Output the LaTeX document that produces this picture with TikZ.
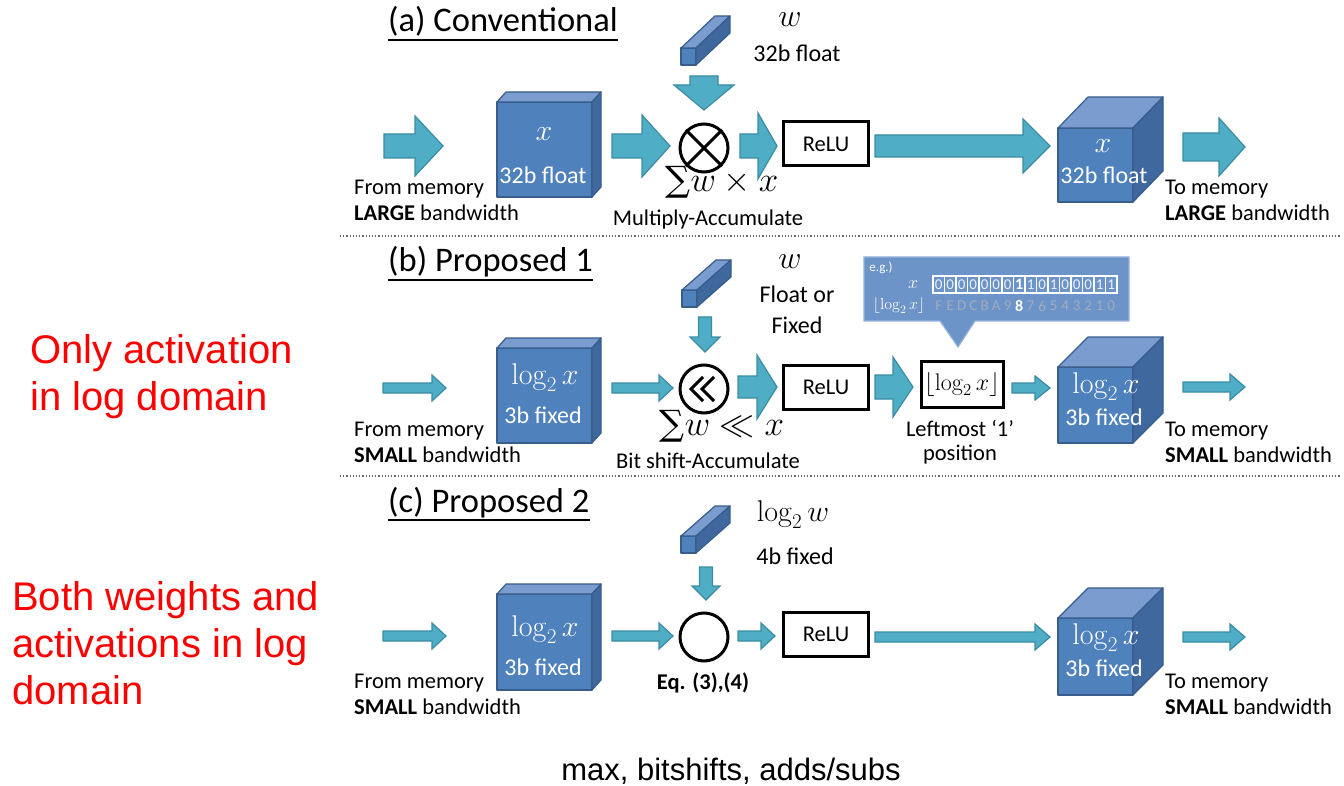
\RequirePackage{fix-cm}
\documentclass[tikz,border=0pt]{standalone}
\usepackage[no-math]{fontspec}
\setmainfont{Carlito}
\newfontfamily\arialf{Liberation Sans}
\newfontfamily\symf{DejaVu Serif}
\usetikzlibrary{calc}
\definecolor{arrfill}{HTML}{4FADC6}
\definecolor{arrdraw}{HTML}{3A8CA3}
\definecolor{cubefront}{HTML}{4F81BD}
\definecolor{cubetop}{HTML}{7A9CCF}
\definecolor{cubeside}{HTML}{3F689F}
\definecolor{cubeedge}{HTML}{385D8A}
\definecolor{callfill}{HTML}{6D94C9}
\definecolor{calledge}{HTML}{95B3DD}
\definecolor{digitgray}{HTML}{A0ABBE}
\definecolor{redtxt}{HTML}{FF0000}
\tikzset{
  fatarrow/.style={fill=arrfill, draw=arrdraw, line width=1.2, line join=miter},
  cubeface/.style={draw=cubeedge, line width=1.2, line join=round},
  lab/.style={inner sep=0, font=\fontsize{22.5}{27}\selectfont},
  titletxt/.style={inner sep=0, font=\fontsize{34.5}{41}\selectfont},
  cubetxt/.style={inner sep=0, text=white, font=\fontsize{24}{28}\selectfont},
  cubemath/.style={inner sep=0, text=white, font=\fontsize{30}{36}\selectfont},
  bigmath/.style={inner sep=0, font=\fontsize{35}{40}\selectfont},
  wmath/.style={inner sep=0, font=\fontsize{32}{36}\selectfont},
  wlab/.style={inner sep=0, font=\fontsize{24}{28}\selectfont},
  redlab/.style={inner sep=0, text=redtxt, font=\arialf\fontsize{40}{47}\selectfont},
  botlab/.style={inner sep=0, font=\arialf\fontsize{31}{36}\selectfont},
  opcircle/.style={circle, draw=black, line width=3, minimum size=48, inner sep=0},
  blackbox/.style={draw=black, line width=3, inner sep=0, minimum width=85, minimum height=44, font=\fontsize{22.5}{27}\selectfont},
  callout/.style={fill=callfill, draw=calledge, line width=1.2},
  sepline/.style={dotted, draw=black!60, line width=1.2},
  pics/barrow/.style args={#1/#2/#3/#4}{code={
    \draw[fatarrow] (0,-#2) -- (#1-#4,-#2) -- (#1-#4,-#3) -- (#1,0) -- (#1-#4,#3) -- (#1-#4,#2) -- (0,#2) -- cycle;}},
  pics/cube/.style args={#1/#2/#3/#4}{code={
    \filldraw[cubeface, fill=cubefront] (0,0) rectangle (#1,#2);
    \filldraw[cubeface, fill=cubetop] (0,0) -- (#3,-#4) -- (#1+#3,-#4) -- (#1,0) -- cycle;
    \filldraw[cubeface, fill=cubeside] (#1,0) -- (#1+#3,-#4) -- (#1+#3,#2-#4) -- (#1,#2) -- cycle;}},
}
\begin{document}
\begin{tikzpicture}[x=1pt, y=-1pt]
\useasboundingbox (0,0) rectangle (1344,786);
\fill[white] (0,0) rectangle (1344,786);

% ---------- left red labels ----------
\node[redlab, anchor=base west] (r1) at (30,363) {Only activation};
\node[redlab, anchor=base west] (r2) at (30,410) {in log domain};
\node[redlab, anchor=base west] (r3) at (12,610) {Both weights and};
\node[redlab, anchor=base west] (r4) at (12,657) {activations in log};
\node[redlab, anchor=base west] (r5) at (12,704) {domain};
\node[botlab, anchor=base] (bot) at (731,780) {max, bitshifts, adds/subs};

% ---------- separators ----------
\draw[sepline] (340,236) -- (1340,236);
\draw[sepline] (340,476) -- (1340,476);

% ================= ROW A =================
\node[titletxt, anchor=base west] (ta) at (388,32) {(a) Conventional};
\draw[line width=1.6] ($(ta.base west)+(0,8)$) -- ($(ta.base east)+(0,8)$);

\pic at (384,146) {barrow=59/12/30/28};
\pic at (497,102) {cube=95/95/9/10};
\node[cubemath] (xa) at (544,134) {$x$};
\node[cubetxt] (xa2) at (543,175) {32b float};
\pic at (612,146) {barrow=58/12/31/28};
\node[opcircle] (ca) at (704,148) {};
\draw[line width=3] (ca.north west) -- (ca.south east) (ca.north east) -- (ca.south west);
\pic at (681,48) {cube=15/17/34/32};
\node[wmath] (wa) at (790,20) {$w$};
\node[wlab] (wa2) at (797,53) {32b float};
\pic[rotate=-90] at (704,76) {barrow=34/14/30/25};
\node[bigmath, anchor=base] (sa) at (722,192) {{\symf ∑}$w\times x$};
\node[lab] (ma) at (708,220) {Multiply-Accumulate};
\pic at (740,146) {barrow=37/12/33/19};
\node[blackbox] (ra) at (826,144) {ReLU};
\pic at (875,146) {barrow=175/11/27/27};
\pic at (1058,128) {cube=75/74/30/31};
\node[cubemath] (xar) at (1103,146) {$x$};
\node[cubetxt] (xar2) at (1104,175) {32b float};
\pic at (1183,147) {barrow=62/14/29/26};
\node[lab, anchor=base west] (fa1) at (354,195) {From memory};
\node[lab, anchor=base west] (fa2) at (354,221) {\textbf{LARGE} bandwidth};
\node[lab, anchor=base west] (ta1) at (1165,195) {To memory};
\node[lab, anchor=base west] (ta2) at (1165,221) {\textbf{LARGE} bandwidth};

% ================= ROW B =================
\node[titletxt, anchor=base west] (tb) at (388,272) {(b) Proposed 1};
\draw[line width=1.6] ($(tb.base west)+(0,8)$) -- ($(tb.base east)+(0,8)$);

\pic at (383,388) {barrow=63/5/13/14};
\pic at (497,348) {cube=95/95/9/10};
\node[cubemath] (xb) at (545,378) {$\log_2 x$};
\node[cubetxt] (xb2) at (543,415) {3b fixed};
\pic at (612,388) {barrow=61/5/13/14};
\node[opcircle] (cb) at (704,389) {};
\draw[line width=3, line join=miter] ($(cb)+(-1,-12)$) -- ($(cb)+(-13,0)$) -- ($(cb)+(-1,12)$);
\draw[line width=3, line join=miter] ($(cb)+(10,-12)$) -- ($(cb)+(-2,0)$) -- ($(cb)+(10,12)$);
\pic at (682,290) {cube=15/17/34/30};
\node[wmath] (wb) at (790,262) {$w$};
\node[wlab] (wb2) at (797,294) {Float or};
\node[wlab] (wb3) at (797,325) {Fixed};
\pic[rotate=-90] at (705,317) {barrow=35/6.5/15/15};
\node[bigmath, anchor=base] (sb) at (722,435) {{\symf ∑}$w\ll x$};
\node[lab] (mb) at (708,461) {Bit shift-Accumulate};
\pic at (738,387) {barrow=39/11/32/20};
\node[blackbox] (rb) at (826,387) {ReLU};
\pic at (875,387) {barrow=38/12/30/20};
\node[blackbox, minimum width=82, minimum height=46, font=\fontsize{24}{28}\selectfont] (fb) at (962,384) {$\lfloor\log_2 x\rfloor$};
\node[lab] (lb1) at (960,428) {Leftmost ‘1’};
\node[lab] (lb2) at (960,455) {position};
\pic at (1012,388) {barrow=38/5/12/15};
\pic at (1058,367) {cube=75/76/30/30};
\node[cubemath] (xbr) at (1106,387) {$\log_2 x$};
\node[cubetxt] (xbr2) at (1104,417) {3b fixed};
\pic at (1183,387) {barrow=62/5/13/15};
\node[lab, anchor=base west] (fb1) at (354,436) {From memory};
\node[lab, anchor=base west] (fb2) at (354,462) {\textbf{SMALL} bandwidth};
\node[lab, anchor=base west] (tb1) at (1165,436) {To memory};
\node[lab, anchor=base west] (tb2) at (1165,462) {\textbf{SMALL} bandwidth};

% callout
\draw[callout] (864,257) -- (1129,257) -- (1129,321) -- (975,321) -- (958,347) -- (940,321) -- (864,321) -- cycle;
\node[inner sep=0, text=white, font=\fontsize{13}{15}\selectfont] (eg) at (881,268) {e.g.)};
\node[inner sep=0, text=white, font=\fontsize{18}{20}\selectfont] (egx) at (913,285) {$x$};
\node[inner sep=0, text=white, font=\fontsize{16}{18}\selectfont] (egl) at (899,306) {$\lfloor\log_2 x\rfloor$};
\foreach \b [count=\i from 0] in {0,0,0,0,0,0,0,1,1,0,1,0,0,0,1,1} {
  \draw[white, line width=1.1] ({933+\i*11.5},276) rectangle ({944.5+\i*11.5},293);
  \ifnum\i=7
    \node[inner sep=0, text=white, font=\bfseries\fontsize{16}{18}\selectfont] (bit\i) at ({938.75+\i*11.5},284.5) {\b};
  \else
    \node[inner sep=0, text=white!88!callfill, font=\fontsize{15}{18}\selectfont] (bit\i) at ({938.75+\i*11.5},284.5) {\b};
  \fi
}
\foreach \d [count=\i from 0] in {F,E,D,C,B,A,9,8,7,6,5,4,3,2,1,0} {
  \ifnum\i=7
    \node[inner sep=0, text=white, font=\bfseries\fontsize{16}{18}\selectfont] (pos\i) at ({938.75+\i*11.5},306) {\d};
  \else
    \node[inner sep=0, text=digitgray, font=\fontsize{15}{18}\selectfont] (pos\i) at ({938.75+\i*11.5},306) {\d};
  \fi
}

% ================= ROW C =================
\node[titletxt, anchor=base west] (tc) at (388,512) {(c) Proposed 2};
\draw[line width=1.6] ($(tc.base west)+(0,8)$) -- ($(tc.base east)+(0,8)$);

\pic at (383,636) {barrow=63/5/13/14};
\pic at (497,594) {cube=95/96/9/10};
\node[cubemath] (xc) at (545,630) {$\log_2 x$};
\node[cubetxt] (xc2) at (543,667) {3b fixed};
\pic at (612,636) {barrow=61/5/13/14};
\node[opcircle] (cc) at (704,637) {};
\pic at (681,536) {cube=15/17/34/30};
\node[wmath, font=\fontsize{30}{34}\selectfont] (wc) at (793,515) {$\log_2 w$};
\node[wlab] (wc2) at (795,556) {4b fixed};
\pic[rotate=-90] at (706,567) {barrow=33/6.5/14/14};
\node[lab, font=\bfseries\fontsize{22.5}{27}\selectfont] (ec) at (703,683) {Eq. (3),(4)};
\pic at (738,636) {barrow=37/5/13/14};
\node[blackbox] (rc) at (826,634) {ReLU};
\pic at (875,637) {barrow=175/5/13/15};
\pic at (1058,618) {cube=75/77/30/30};
\node[cubemath] (xcr) at (1106,638) {$\log_2 x$};
\node[cubetxt] (xcr2) at (1104,668) {3b fixed};
\pic at (1183,637) {barrow=62/5/13/15};
\node[lab, anchor=base west] (fc1) at (354,688) {From memory};
\node[lab, anchor=base west] (fc2) at (354,714) {\textbf{SMALL} bandwidth};
\node[lab, anchor=base west] (tc1) at (1165,688) {To memory};
\node[lab, anchor=base west] (tc2) at (1165,714) {\textbf{SMALL} bandwidth};
\end{tikzpicture}
\end{document}
